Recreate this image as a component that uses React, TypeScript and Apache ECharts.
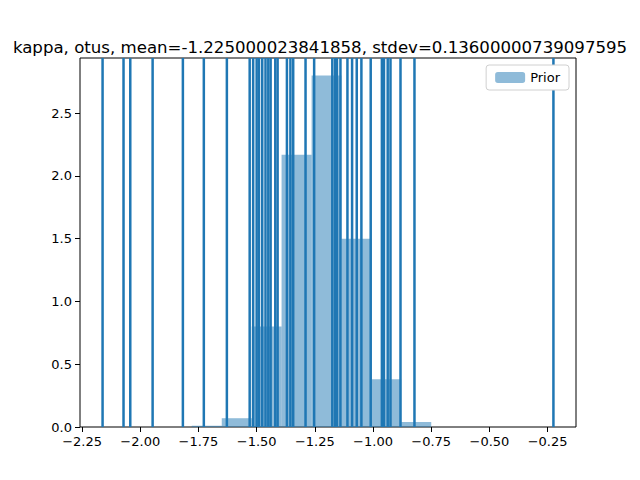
import { useRef, useEffect } from "react";
import * as echarts from "echarts";

const titleText = "kappa, otus, mean=-1.225000023841858, stdev=0.13600000739097595";

// histogram bin edges and densities
const binEdges = [-1.779, -1.65, -1.521, -1.393, -1.264, -1.136, -1.007, -0.879, -0.75];
const binHeights = [0.01, 0.07, 0.8, 2.17, 2.8, 1.5, 0.38, 0.04];

// sample positions drawn as vertical lines
const samples = [
  -2.162, -2.072, -2.043, -1.947, -1.817, -1.727, -1.628, -1.53, -1.515, -1.5, -1.49,
  -1.476, -1.462, -1.45, -1.44, -1.42, -1.41, -1.37, -1.355, -1.343, -1.29, -1.253,
  -1.175, -1.163, -1.155, -1.14, -1.11, -1.09, -1.07, -1.05, -1.01, -0.962, -0.953,
  -0.937, -0.925, -0.882, -0.822, -0.225,
];

const xTicks = [-2.25, -2.0, -1.75, -1.5, -1.25, -1.0, -0.75, -0.5, -0.25];

const font = "DejaVu Sans";

export default function App() {
  const ref = useRef<HTMLDivElement>(null);

  useEffect(() => {
    if (!ref.current) return;
    const chart = echarts.init(ref.current, null, { renderer: "svg" });

    const bins = binHeights.map((h, i) => [binEdges[i], binEdges[i + 1], h]);

    chart.setOption({
      animation: false,
      title: {
        text: titleText,
        left: "center",
        top: 34,
        textStyle: { fontFamily: font, fontSize: 16.6, fontWeight: "normal", color: "#000" },
      },
      legend: {
        data: ["Prior"],
        right: 71,
        top: 65,
        itemWidth: 30,
        itemHeight: 11,
        padding: [6, 9],
        borderColor: "#d0d0d0",
        borderWidth: 1,
        borderRadius: 3,
        backgroundColor: "#fff",
        textStyle: { fontFamily: font, fontSize: 13, color: "#000" },
      },
      grid: {
        left: 80,
        right: 64,
        top: 58,
        bottom: 53,
        show: true,
        borderColor: "#000",
        borderWidth: 1,
        backgroundColor: "transparent",
      },
      xAxis: {
        type: "value",
        min: -2.259,
        max: -0.128,
        axisLine: { show: false },
        splitLine: { show: false },
        axisTick: { show: true, length: 5, customValues: xTicks, lineStyle: { color: "#000" } },
        axisLabel: {
          customValues: xTicks,
          formatter: (v: number) => v.toFixed(2).replace("-", "\u2212"),
          fontFamily: font,
          fontSize: 13,
          color: "#000",
          margin: 8,
        },
      },
      yAxis: {
        type: "value",
        min: 0,
        max: 2.94,
        interval: 0.5,
        axisLine: { show: false },
        splitLine: { show: false },
        axisTick: { show: true, length: 5, lineStyle: { color: "#000" } },
        axisLabel: {
          formatter: (v: number) => (v > 2.9 ? "" : v.toFixed(1)),
          fontFamily: font,
          fontSize: 13,
          color: "#000",
          margin: 8,
          showMaxLabel: false,
        },
      },
      series: [
        {
          name: "Prior",
          type: "custom",
          data: bins,
          itemStyle: { color: "rgba(31,119,180,0.5)" },
          encode: { x: [0, 1], y: 2 },
          renderItem: (params: any, api: any) => {
            const p0 = api.coord([api.value(0), api.value(2)]);
            const p1 = api.coord([api.value(1), 0]);
            return {
              type: "rect",
              shape: { x: p0[0], y: p0[1], width: p1[0] - p0[0], height: p1[1] - p0[1] },
              style: { fill: "rgba(31,119,180,0.5)" },
            };
          },
          z: 1,
        },
        {
          name: "samples",
          type: "custom",
          data: samples.map((s) => [s]),
          encode: { x: 0 },
          renderItem: (params: any, api: any) => {
            const x = api.coord([api.value(0), 0])[0];
            const top = params.coordSys.y;
            const bottom = top + params.coordSys.height;
            return {
              type: "line",
              shape: { x1: x, y1: top, x2: x, y2: bottom },
              style: { stroke: "#1f77b4", lineWidth: 2.5 },
            };
          },
          z: 2,
        },
      ],
    });

    return () => chart.dispose();
  }, []);

  return <div ref={ref} style={{ width: 640, height: 480, margin: -8, background: "#fff" }} />;
}
